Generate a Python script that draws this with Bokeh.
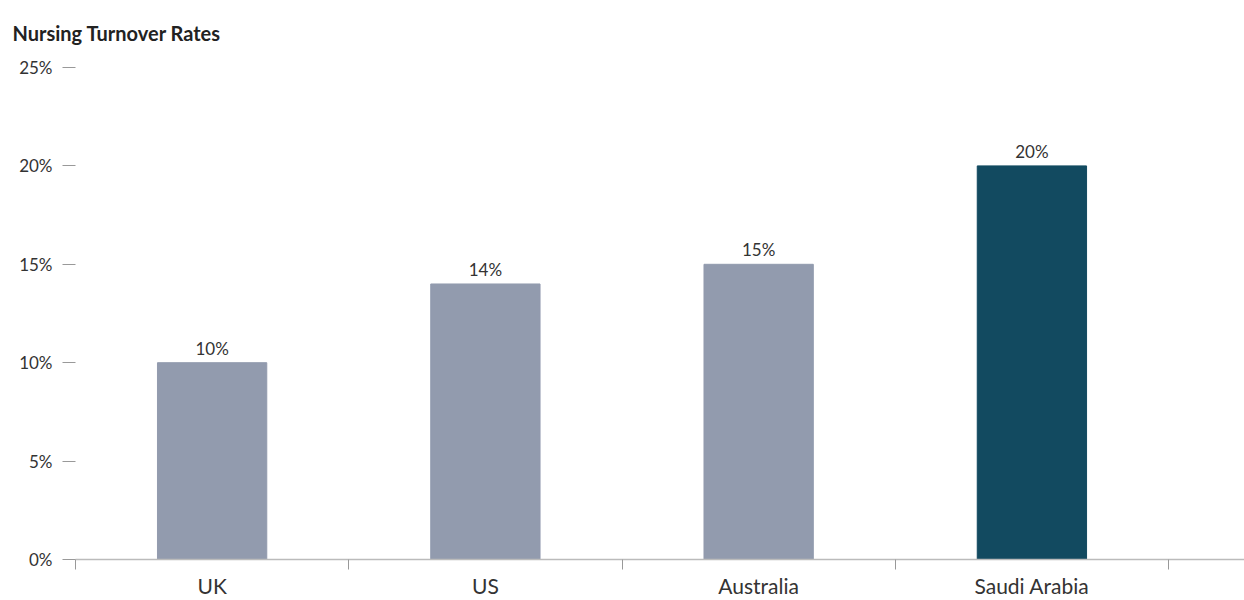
from bokeh.plotting import figure
from bokeh.models import ColumnDataSource, Range1d, FixedTicker
from bokeh.core.properties import value
from bokeh.embed import file_html
from bokeh.resources import INLINE

categories = ["UK", "US", "Australia", "Saudi Arabia"]
rates = [10, 14, 15, 20]
bar_colors = ["#929bae", "#929bae", "#929bae", "#124a60"]
y_ticks = [0, 5, 10, 15, 20, 25]
y_tick_labels = ["0%", "5%", "10%", "15%", "20%", "25%"]
title_text = "Nursing Turnover Rates"

FONT = "Lato"

xs = [i + 0.5 for i in range(len(categories))]
src = ColumnDataSource(dict(
    x=xs, top=rates, color=bar_colors,
    label=[f"{r}%" for r in rates],
))

p = figure(width=1244, height=600, output_backend="svg", toolbar_location=None,
           x_range=Range1d(0, 4.278), y_range=Range1d(0, 25),
           min_border_left=75, min_border_right=0, min_border_top=0, min_border_bottom=41)
p.outline_line_color = None
p.xgrid.visible = False
p.ygrid.visible = False

p.title.text = title_text
p.title.text_font = FONT
p.title.text_font_size = "20px"
p.title.text_font_style = "bold"
p.title.text_color = "#222222"
p.title.align = "left"
p.title.vertical_align = "top"
p.title.offset = -63
p.title.standoff = 41

p.vbar(x="x", top="top", bottom=0, width=0.4, color="color", source=src)
p.text(x="x", y="top", text="label", source=src, text_align="center",
       text_baseline="bottom", y_offset=-4, text_font=value(FONT),
       text_font_size="17px", text_color="#333333")

xa = p.xaxis[0]
xa.ticker = FixedTicker(ticks=xs, minor_ticks=[0, 1, 2, 3, 4])
xa.major_label_overrides = {x: c for x, c in zip(xs, categories)}
xa.major_tick_out = 0
xa.major_tick_in = 0
xa.minor_tick_out = 10
xa.minor_tick_in = 0
xa.minor_tick_line_color = "#999999"
xa.axis_line_color = "#bbbbbb"
xa.axis_line_width = 1.5
xa.major_label_standoff = 3
xa.major_label_text_font = FONT
xa.major_label_text_font_size = "21px"
xa.major_label_text_color = "#333333"

ya = p.yaxis[0]
ya.ticker = FixedTicker(ticks=y_ticks, minor_ticks=[])
ya.major_label_overrides = {t: l for t, l in zip(y_ticks, y_tick_labels)}
ya.axis_line_color = None
ya.major_tick_out = 13
ya.major_tick_in = 0
ya.major_tick_line_color = "#999999"
ya.major_label_standoff = 10
ya.major_label_text_font = FONT
ya.major_label_text_font_size = "17px"
ya.major_label_text_color = "#333333"

open("out.html", "w").write(file_html(p, INLINE))
